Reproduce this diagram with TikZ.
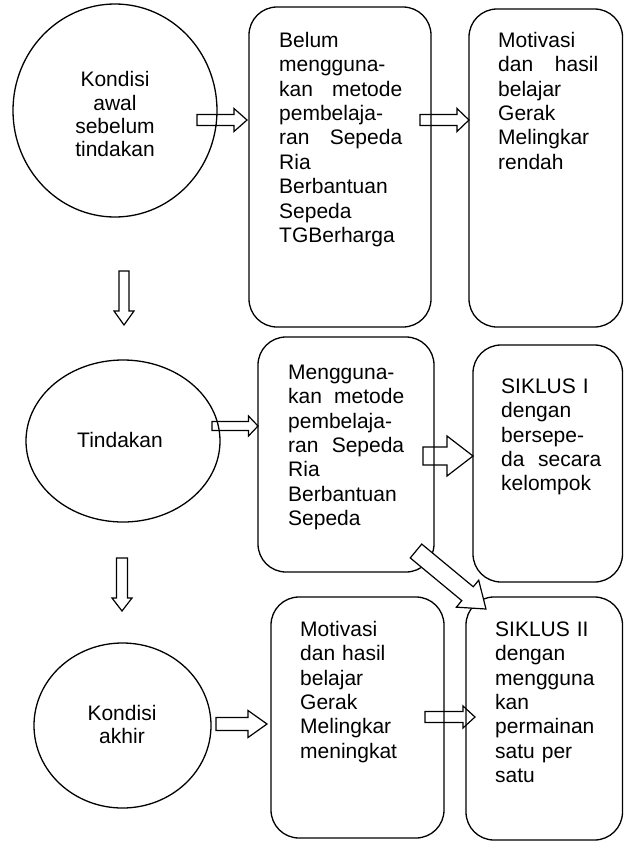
\documentclass[tikz,border=0pt]{standalone}
\usepackage{fontspec}
\setmainfont{Liberation Sans}
\usetikzlibrary{shapes.geometric,calc}
\newcommand\bodyfont{\fontsize{21}{24.4}\selectfont}
\newcommand\ovalfont{\fontsize{21}{23.3}\selectfont}
% #1 extra style, #2 tail, #3 tip, #4 shaft half width, #5 head half width, #6 head length
\newcommand\blockarrow[6][]{%
  \coordinate (hb) at ($(#3)!#6!(#2)$);
  \draw[barrow,#1] ($(#2)!#4!90:(#3)$) -- ($(hb)!#4!90:(#3)$) -- ($(hb)!#5!90:(#3)$)
    -- (#3) -- ($(hb)!#5!-90:(#3)$) -- ($(hb)!#4!-90:(#3)$) -- ($(#2)!#4!-90:(#3)$) -- cycle;
}
\tikzset{
  rbox/.style={draw, line width=1.3pt, rounded corners=28pt, inner sep=0pt},
  oval/.style={draw, ellipse, line width=1.3pt, inner sep=0pt},
  barrow/.style={draw, line width=1.2pt, line join=miter},
  boxtext/.style={inner sep=0pt, anchor=north west, align=left, font=\bodyfont,
    execute at begin node={\setlength\parindent{0pt}\setlength\parskip{0pt}}},
  ovaltext/.style={inner sep=0pt, align=center, font=\ovalfont}
}
\begin{document}
\begin{tikzpicture}[x=1pt,y=-1pt]
\useasboundingbox (0,0) rectangle (624,841);
% ovals
\node[oval, minimum width=204pt, minimum height=213pt] (e1) at (115,110.5) {};
\node[oval, minimum width=194pt, minimum height=162pt] (e2) at (123,441) {};
\node[oval, minimum width=177pt, minimum height=165pt] (e3) at (122.5,725.5) {};
% boxes
\node[rbox, minimum width=182pt, minimum height=320pt] (b2) at (340,167) {};
\node[rbox, minimum width=153.5pt, minimum height=318pt] (b3) at (545.75,168) {};
\node[rbox, minimum width=176pt, minimum height=235pt] (b4) at (346,454.5) {};
\node[rbox, minimum width=149.5pt, minimum height=237pt] (b5) at (547.75,463.5) {};
\node[rbox, minimum width=173pt, minimum height=241pt] (b6) at (357.5,717.5) {};
\node[rbox, minimum width=156.5pt, minimum height=243pt] (b7) at (544.25,718.5) {};
% texts
\node[ovaltext, anchor=north] (t1) at (115,70.5) {\rule{0pt}{16pt}Kondisi\\awal\\sebelum\\tindakan};
\node[ovaltext, anchor=base] (t4) at (120,447) {Tindakan};
\node[ovaltext, anchor=north] (t7) at (122,704) {\rule{0pt}{16pt}Kondisi\\akhir};
\node[boxtext, text width=123pt] (t2) at (279,31) {\rule{0pt}{16pt}Belum\\mengguna-\\kan\hfill metode\\pembelaja-\\ran\hfill Sepeda\\Ria\\Berbantuan\\Sepeda\\TGBerharga};
\node[boxtext, text width=100pt] (t3) at (498,31) {\rule{0pt}{16pt}Motivasi\\dan\hfill hasil\\belajar\\Gerak\\Melingkar\\rendah};
\node[boxtext, text width=116pt] (t5) at (288,363) {\rule{0pt}{16pt}Mengguna-\\kan\hfill metode\\pembelaja-\\ran\hfill Sepeda\\Ria\\Berbantuan\\Sepeda};
\node[boxtext, text width=100pt] (t6) at (501,377) {\rule{0pt}{16pt}SIKLUS I\\dengan\\bersepe-\\da\hfill secara\\kelompok};
\node[boxtext, text width=125pt] (t8) at (300,620) {\rule{0pt}{16pt}Motivasi\\dan hasil\\belajar\\Gerak\\Melingkar\\meningkat};
\node[boxtext, text width=115pt] (t9) at (495,620) {\rule{0pt}{16pt}SIKLUS II\\dengan\\mengguna\\kan\\permainan\\satu per\\satu};
% arrow end points
\coordinate (a1t) at (197,120);  \coordinate (a1h) at (247,120);
\coordinate (a2t) at (420,120);  \coordinate (a2h) at (469,120);
\coordinate (d1t) at (124,271);  \coordinate (d1h) at (124,325);
\coordinate (a3t) at (212,426);  \coordinate (a3h) at (258,426);
\coordinate (a4t) at (423,456);  \coordinate (a4h) at (473,456);
\coordinate (a5t) at (416,551);  \coordinate (a5h) at (486,609);
\coordinate (d2t) at (122,558);  \coordinate (d2h) at (122,611);
\coordinate (a6t) at (216,724);  \coordinate (a6h) at (267,724);
\coordinate (a7t) at (425,717);  \coordinate (a7h) at (475,717);
% block arrows
\blockarrow{a1t}{a1h}{5.5pt}{11.5pt}{13pt}
\blockarrow{a2t}{a2h}{5.5pt}{11.5pt}{12pt}
\blockarrow{d1t}{d1h}{5pt}{10pt}{14pt}
\blockarrow{a3t}{a3h}{4.5pt}{10pt}{9.5pt}
\blockarrow{a4t}{a4h}{9pt}{20pt}{26pt}
\blockarrow[fill=white]{a5t}{a5h}{9pt}{17.5pt}{24pt}
\blockarrow{d2t}{d2h}{5.5pt}{10pt}{13pt}
\blockarrow{a6t}{a6h}{6.5pt}{13.5pt}{19pt}
\blockarrow{a7t}{a7h}{5.5pt}{11pt}{12pt}
\end{tikzpicture}
\end{document}
